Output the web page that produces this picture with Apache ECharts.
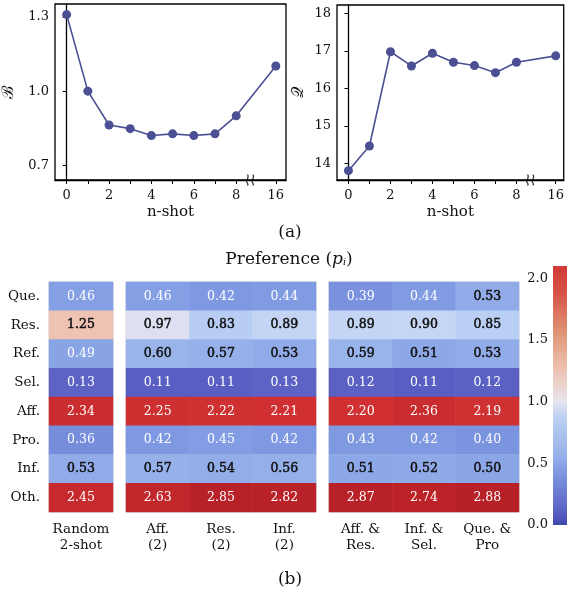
<!DOCTYPE html>
<html><head><meta charset="utf-8">
<script src="https://cdn.jsdelivr.net/npm/echarts@6/dist/echarts.min.js"></script>
<style>html,body{margin:0;padding:0;background:#fff}#c{width:567px;height:593px}</style>
</head><body><div id="c"></div>
<script>
// ---------- data ----------
const shotLabels = [0, 1, 2, 3, 4, 5, 6, 7, 8, 16];
const biasVals = [1.31, 1.00, 0.863, 0.848, 0.820, 0.827, 0.820, 0.827, 0.900, 1.102];
const qualVals = [13.80, 14.46, 16.98, 16.60, 16.94, 16.70, 16.61, 16.42, 16.70, 16.87];
const biasTicks = [0.7, 1.0, 1.3];
const qualTicks = [14, 15, 16, 17, 18];
const shotTickLabels = [0, 2, 4, 6, 8, 16];

const rowLabels = ['Que.', 'Res.', 'Ref.', 'Sel.', 'Aff.', 'Pro.', 'Inf.', 'Oth.'];
const colsA = ['Random\n2-shot'];
const colsB = ['Aff.\n(2)', 'Res.\n(2)', 'Inf.\n(2)'];
const colsC = ['Aff. &\nRes.', 'Inf. &\nSel.', 'Que. &\nPro'];
const random2 = [0.46, 1.25, 0.49, 0.13, 2.34, 0.36, 0.53, 2.45];
const aff2 = [0.46, 0.97, 0.60, 0.11, 2.25, 0.42, 0.57, 2.63];
const res2 = [0.42, 0.83, 0.57, 0.11, 2.22, 0.45, 0.54, 2.85];
const inf2 = [0.44, 0.89, 0.53, 0.13, 2.21, 0.42, 0.56, 2.82];
const affRes = [0.39, 0.89, 0.59, 0.12, 2.20, 0.43, 0.51, 2.87];
const infSel = [0.44, 0.90, 0.51, 0.11, 2.36, 0.42, 0.52, 2.74];
const quePro = [0.53, 0.85, 0.53, 0.12, 2.19, 0.40, 0.50, 2.88];
const colorbarTicks = [0, 0.5, 1.0, 1.5, 2.0];

// ---------- styling helpers ----------
const FONT = 'DejaVu Serif';
const LINE = '#4b4f93';
const BREAK_POS = 9.87;             // display slot for the "16" after the axis break
const BREAK_MARK = 8.66;
function shotPos(n) { return n <= 8 ? n : BREAK_POS; }
function posLabel(p) { return p > 8.5 ? '16' : String(Math.round(p)); }

const cmapStops = [
  [0.00, [64, 70, 178]], [0.12, [92, 98, 196]], [0.42, [125, 152, 225]],
  [0.55, [148, 175, 233]], [0.88, [190, 210, 245]], [1.00, [230, 228, 238]],
  [1.25, [238, 195, 180]], [1.55, [224, 150, 120]], [1.90, [212, 80, 68]],
  [2.20, [208, 48, 50]], [2.90, [182, 32, 38]]
];
function cmap(v) {
  if (v <= cmapStops[0][0]) return cmapStops[0][1];
  for (let i = 1; i < cmapStops.length; i++) {
    if (v <= cmapStops[i][0]) {
      const [a, ca] = cmapStops[i - 1], [b, cb] = cmapStops[i];
      const t = (v - a) / (b - a);
      return ca.map((x, k) => Math.round(x + (cb[k] - x) * t));
    }
  }
  return cmapStops[cmapStops.length - 1][1];
}
const rgb = c => `rgb(${c[0]},${c[1]},${c[2]})`;
const VMAX = 2.9, CBMAX = 2.1;
const vmColors = [];
for (let i = 0; i <= 58; i++) vmColors.push(rgb(cmap(VMAX * i / 58)));
const cbStops = [];
for (let i = 0; i <= 42; i++) cbStops.push({ offset: i / 42, color: rgb(cmap(CBMAX * i / 42)) });

function heatData(cols) {
  const out = [];
  cols.forEach((arr, c) => arr.forEach((v, r) => {
    const light = (v < 0.5 || v > 1.5);
    out.push({ value: [c, r, v], label: light
      ? { color: '#fff' }
      : { color: '#111', textBorderColor: '#111', textBorderWidth: 0.5 } });
  }));
  return out;
}

// ---------- line chart pieces ----------
function lineXAxis(gi, min, max) {
  return {
    type: 'value', gridIndex: gi, min: min, max: max,
    name: 'n-shot', nameLocation: 'middle', nameGap: 25,
    nameTextStyle: { fontFamily: FONT, fontSize: 15, color: '#111' },
    axisLine: { lineStyle: { color: '#000', width: 1.3 } },
    axisTick: { show: true, length: 4, lineStyle: { color: '#000' }, customValues: shotLabels.map(shotPos) },
    axisLabel: { customValues: shotTickLabels.map(shotPos), formatter: posLabel, fontFamily: FONT, fontSize: 13, color: '#111', margin: 9 },
    splitLine: { show: false }
  };
}
function lineYAxis(gi, min, max, ticks, name, gap, fmt) {
  return {
    type: 'value', gridIndex: gi, min: min, max: max,
    name: name, nameLocation: 'middle', nameGap: gap, nameRotate: 90,
    nameTextStyle: { fontFamily: FONT, fontSize: 16, color: '#111' },
    axisLine: { show: true, lineStyle: { color: '#000', width: 1.3 } },
    axisTick: { show: true, length: 4, lineStyle: { color: '#000' }, customValues: ticks },
    axisLabel: { customValues: ticks, formatter: fmt, fontFamily: FONT, fontSize: 13, color: '#111', margin: 6 },
    splitLine: { show: false }
  };
}
function lineSeries(gi, vals) {
  return {
    type: 'line', xAxisIndex: gi, yAxisIndex: gi,
    data: shotLabels.map((n, i) => [shotPos(n), vals[i]]),
    symbol: 'circle', symbolSize: 9,
    lineStyle: { color: LINE, width: 1.6 }, itemStyle: { color: LINE },
    silent: true, animation: false
  };
}
function breakSeries(gi, ymin) {
  return {
    type: 'scatter', xAxisIndex: gi, yAxisIndex: gi, silent: true, animation: false,
    data: [[BREAK_MARK, ymin]], symbolSize: [8, 11],
    symbol: 'path://M3,0 C5,2 1,6 3,8 C4,9 3,10 3,10 L1.8,10 C1.8,10 2.6,8.8 1.8,8 C-0.2,6 3.8,2 1.8,0 Z M8,0 C10,2 6,6 8,8 C9,9 8,10 8,10 L6.8,10 C6.8,10 7.6,8.8 6.8,8 C4.8,6 8.8,2 6.8,0 Z',
    itemStyle: { color: '#000' }, clip: false, z: 5
  };
}

// ---------- heatmap pieces ----------
const hmTop = 282, hmBottom = 593 - 512;
function hmXAxis(gi, cats) {
  return {
    type: 'category', gridIndex: gi, data: cats,
    axisLine: { show: false }, axisTick: { show: false }, splitLine: { show: false },
    axisLabel: { fontFamily: FONT, fontSize: 13.5, color: '#111', lineHeight: 16, margin: 9, interval: 0 }
  };
}
function hmYAxis(gi, showLabels) {
  return {
    type: 'category', gridIndex: gi, data: rowLabels, inverse: true,
    axisLine: { show: false }, axisTick: { show: false }, splitLine: { show: false },
    axisLabel: { show: showLabels, fontFamily: FONT, fontSize: 13.5, color: '#111', margin: 9 }
  };
}
function hmSeries(gi, cols) {
  return {
    type: 'heatmap', xAxisIndex: gi, yAxisIndex: gi, data: heatData(cols),
    label: { show: true, formatter: p => p.value[2].toFixed(2), fontFamily: FONT, fontSize: 12.5 },
    itemStyle: { borderWidth: 0 }, emphasis: { disabled: true }, animation: false
  };
}

const hmGrid = { show: true, borderColor: '#d4d4d4', borderWidth: 1, backgroundColor: 'transparent', top: hmTop, bottom: hmBottom };

const option = {
  animation: false,
  title: [
    { text: '(a)', left: 285, top: 219, textAlign: 'center', textStyle: { fontFamily: FONT, fontSize: 17, fontWeight: 'normal', color: '#111' } },
    { text: 'Preference ({i|p}{s|i})', left: 284, top: 246, textAlign: 'center',
      textStyle: { fontFamily: FONT, fontSize: 17, fontWeight: 'normal', color: '#111',
        rich: { i: { fontFamily: FONT, fontStyle: 'italic', fontSize: 17, color: '#111' },
                s: { fontFamily: FONT, fontStyle: 'italic', fontSize: 9.5, color: '#111', padding: [7, 0, 0, 0] } } } },
    { text: '(b)', left: 285, top: 566, textAlign: 'center', textStyle: { fontFamily: FONT, fontSize: 17, fontWeight: 'normal', color: '#111' } }
  ],
  grid: [
    { left: 54, top: 4, width: 232, height: 176, show: true, borderColor: '#000', borderWidth: 1.3, backgroundColor: 'transparent' },
    { left: 337, top: 5, width: 229, height: 175, show: true, borderColor: '#000', borderWidth: 1.3, backgroundColor: 'transparent' },
    Object.assign({ left: 49, width: 64 }, hmGrid),
    Object.assign({ left: 126, width: 190 }, hmGrid),
    Object.assign({ left: 329, width: 190 }, hmGrid),
    { left: 553, width: 20, top: 266, bottom: 593 - 525 }
  ],
  xAxis: [
    lineXAxis(0, -0.55, 10.35),
    lineXAxis(1, -0.545, 10.25),
    hmXAxis(2, colsA), hmXAxis(3, colsB), hmXAxis(4, colsC),
    { type: 'category', gridIndex: 5, data: [''], show: false }
  ],
  yAxis: [
    lineYAxis(0, 0.64, 1.353, biasTicks, 'ℬ', 38, v => v.toFixed(1)),
    lineYAxis(1, 13.55, 18.23, qualTicks, '𝒬', 30, v => String(v)),
    hmYAxis(2, true), hmYAxis(3, false), hmYAxis(4, false),
    { type: 'value', gridIndex: 5, min: 0, max: CBMAX, position: 'left',
      axisLine: { show: false }, axisTick: { show: false }, splitLine: { show: false },
      axisLabel: { customValues: colorbarTicks, formatter: v => v.toFixed(1), fontFamily: FONT, fontSize: 13, color: '#111', margin: 5 } }
  ],
  visualMap: [{ type: 'continuous', show: false, min: 0, max: VMAX, seriesIndex: [4, 5, 6], inRange: { color: vmColors } }],
  series: [
    lineSeries(0, biasVals),
    lineSeries(1, qualVals),
    breakSeries(0, 0.64),
    breakSeries(1, 13.55),
    hmSeries(2, [random2]),
    hmSeries(3, [aff2, res2, inf2]),
    hmSeries(4, [affRes, infSel, quePro]),
    { type: 'bar', xAxisIndex: 5, yAxisIndex: 5, data: [CBMAX], barWidth: '100%', silent: true,
      itemStyle: { color: { type: 'linear', x: 0, y: 1, x2: 0, y2: 0, colorStops: cbStops } } }
  ]
};
const chart = echarts.init(document.getElementById('c'), null, { renderer: 'canvas' });
chart.setOption(option);
</script></body></html>
